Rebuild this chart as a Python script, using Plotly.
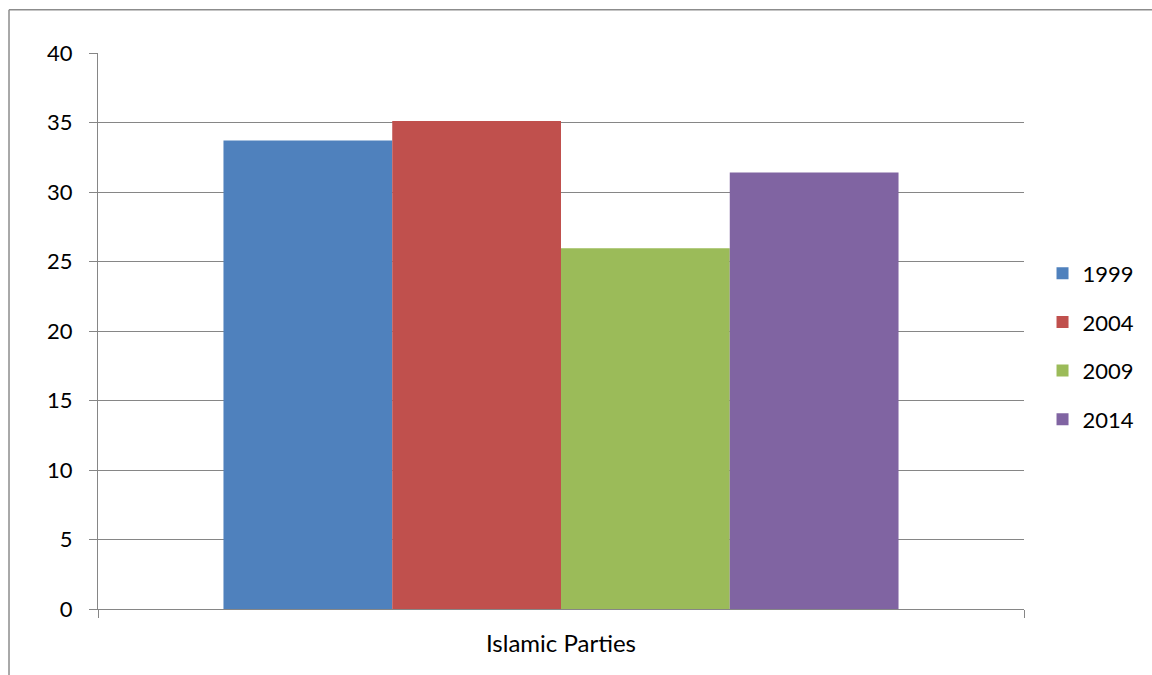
import plotly.graph_objects as go

categories = ["Islamic Parties"]
series_names = ["1999", "2004", "2009", "2014"]
series_values = [[33.7], [35.1], [25.95], [31.4]]
colors = ["#4F81BD", "#C0504D", "#9BBB59", "#8064A2"]
y_ticks = [0, 5, 10, 15, 20, 25, 30, 35, 40]

FONT = "Lato"
GRID = "#868686"

fig = go.Figure()
for i, (name, vals) in enumerate(zip(series_names, series_values)):
    fig.add_trace(go.Bar(
        x=categories, y=vals, name=name,
        marker=dict(color=colors[i], line=dict(width=0)),
        legendgroup=name,
    ))

fig.update_layout(
    width=1152, height=675,
    margin=dict(l=98, r=128, t=52.5, b=66.3, pad=0),
    paper_bgcolor="white", plot_bgcolor="white",
    barmode="group", bargap=0.271, bargroupgap=0,
    font=dict(family=FONT, size=22, color="#000000"),
    showlegend=True,
    legend=dict(
        x=1.02, xanchor="left", y=0.472, yanchor="middle",
        font=dict(family=FONT, size=22, color="#000000"),
        tracegroupgap=17, bgcolor="rgba(0,0,0,0)",
    ),
    shapes=[
        dict(type="line", xref="paper", yref="paper",
             x0=-0.0961, x1=-0.0961, y0=1.078, y1=-0.2,
             line=dict(color="#8C8C8C", width=1.5)),
        dict(type="line", xref="paper", yref="paper",
             x0=-0.0961, x1=1.2, y0=1.078, y1=1.078,
             line=dict(color="#8C8C8C", width=1.5)),
    ],
)

fig.update_yaxes(
    range=[0, 40], tickvals=y_ticks, ticktext=[str(v) for v in y_ticks],
    showgrid=True, gridcolor=GRID, gridwidth=1,
    showline=True, linecolor=GRID, linewidth=1,
    ticks="outside", ticklen=8, tickcolor=GRID, tickwidth=1,
    ticklabelstandoff=12, zeroline=False,
    tickfont=dict(family=FONT, size=22, color="#000000"),
)
fig.update_xaxes(
    type="category", showline=True, linecolor=GRID, linewidth=1,
    ticks="outside", tickson="boundaries", ticklen=8, tickcolor=GRID, tickwidth=1,
    ticklabelstandoff=13, showgrid=False,
    tickfont=dict(family=FONT, size=24, color="#000000"),
)

fig.write_html("out.html")
